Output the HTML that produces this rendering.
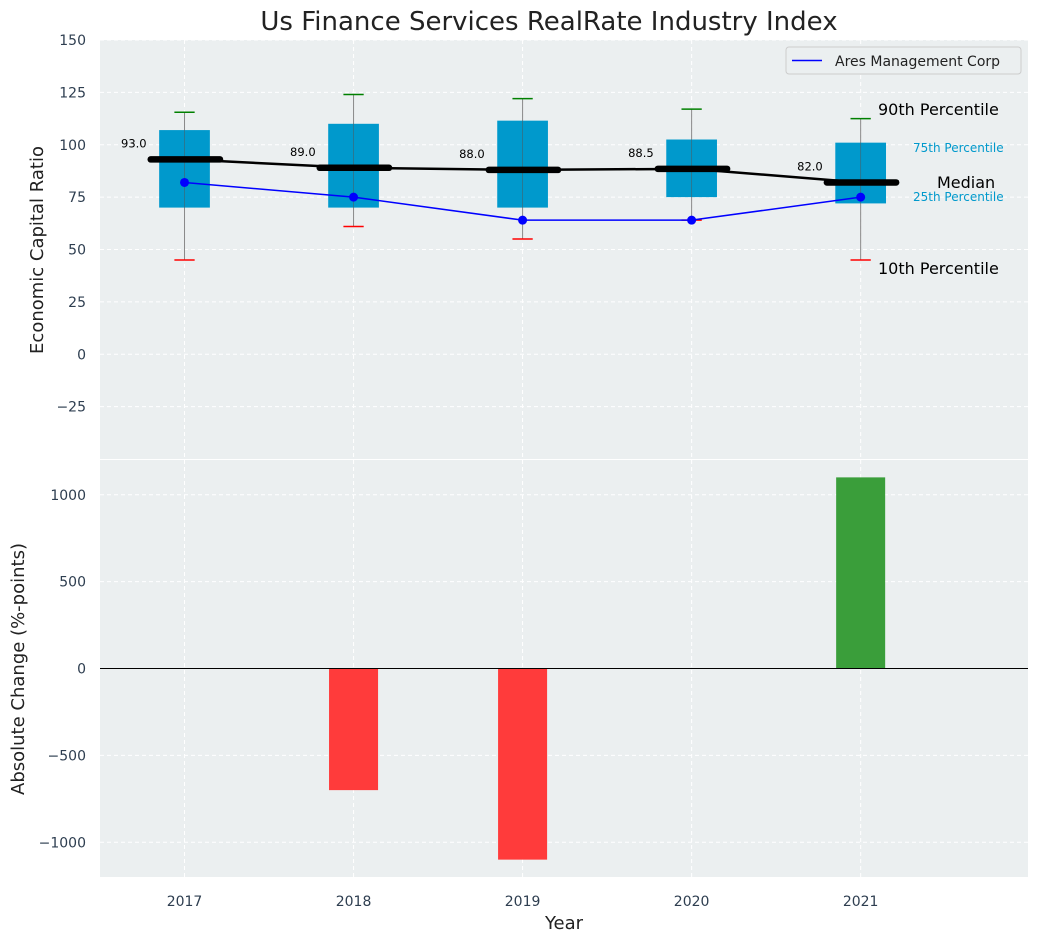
<!DOCTYPE html>
<html><head><meta charset="utf-8">
<style>
body{margin:0;background:#fff;}
svg text{font-family:"DejaVu Sans","Liberation Sans",sans-serif;}
</style></head>
<body>
<svg id="c" width="1039" height="942" xmlns="http://www.w3.org/2000/svg"></svg>
<script>
const years=[2017,2018,2019,2020,2021];
const q1=[70,70,70,75,72];
const q3=[107,110,111.5,102.5,101];
const p10=[45,61,55,64,45];
const p90=[115.5,124,122,117,112.5];
const medians=[93,89,88,88.5,82];
const company=[82,75,64,64,75];
const changes=[0,-700,-1100,0,1100];
const topTicks=[150,125,100,75,50,25,0,-25];
const botTicks=[1000,500,0,-500,-1000];

const svg=document.getElementById('c');
const NS='http://www.w3.org/2000/svg';
function el(t,a,p){const e=document.createElementNS(NS,t);for(const k in a)e.setAttribute(k,a[k]);(p||svg).appendChild(e);return e;}
const L=100,R=1028;
const x=v=>L+(v-2016.5)/(2021.99-2016.5)*(R-L);
const T0=40,T1=459;const yt=v=>T0+(150-v)/200*(T1-T0);
const B0=460,B1=877;const yb=v=>B0+(1200-v)/2400*(B1-B0);

let r=el('rect',{x:L,y:T0,width:R-L,height:T1-T0,fill:'#ebeff0'});

r=el('rect',{x:L,y:B0,width:R-L,height:B1-B0,fill:'#ebeff0'});


years.forEach(v=>{
 el('line',{x1:x(v),x2:x(v),y1:T0,y2:T1,stroke:'#fff','stroke-dasharray':'4,3'});
 el('line',{x1:x(v),x2:x(v),y1:B0,y2:B1,stroke:'#fff','stroke-dasharray':'4,3'});
 let t=el('text',{x:x(v),y:B1+29,'text-anchor':'middle','font-size':14,fill:'#2e3e50'});t.textContent=v;
 
});
topTicks.forEach(v=>{
 el('line',{x1:L,x2:R,y1:yt(v),y2:yt(v),stroke:'#fff','stroke-dasharray':'4,3'});
 let t=el('text',{x:L-14,y:yt(v)+5,'text-anchor':'end','font-size':14,fill:'#2e3e50'});t.textContent=v<0?'−'+(-v):v;
 
});
botTicks.forEach(v=>{
 el('line',{x1:L,x2:R,y1:yb(v),y2:yb(v),stroke:'#fff','stroke-dasharray':'4,3'});
 let t=el('text',{x:L-14,y:yb(v)+5,'text-anchor':'end','font-size':14,fill:'#2e3e50'});t.textContent=v<0?'−'+(-v):v;
 
});

const bw=0.3,cap=0.12;
years.forEach((v,i)=>{
 let w=el('line',{x1:x(v),x2:x(v),y1:yt(p90[i]),y2:yt(p10[i]),stroke:'#888','stroke-width':1});
 
 let b=el('rect',{x:x(v-bw/2),y:yt(q3[i]),width:x(v+bw/2)-x(v-bw/2),height:yt(q1[i])-yt(q3[i]),fill:'#0099cc'});
 
 el('line',{x1:x(v),x2:x(v),y1:yt(q3[i]),y2:yt(q1[i]),stroke:'#555','stroke-width':0.8,opacity:0.6});
 let c1=el('line',{x1:x(v-cap/2),x2:x(v+cap/2),y1:yt(p90[i]),y2:yt(p90[i]),stroke:'green','stroke-width':1.5});
 
 let c2=el('line',{x1:x(v-cap/2),x2:x(v+cap/2),y1:yt(p10[i]),y2:yt(p10[i]),stroke:'red','stroke-width':1.5});
 
});
let pl=el('polyline',{points:years.map((v,i)=>x(v)+','+yt(medians[i])).join(' '),fill:'none',stroke:'#000','stroke-width':2.5});

years.forEach((v,i)=>{
 let m=el('line',{x1:x(v-0.2),x2:x(v+0.21),y1:yt(medians[i]),y2:yt(medians[i]),stroke:'#000','stroke-width':6.5,'stroke-linecap':'round'});
 
 let t=el('text',{x:x(v-0.3),y:yt(medians[i])-12,'text-anchor':'middle','font-size':11.5,fill:'#000'});t.textContent=medians[i].toFixed(1);
 
});
let cl=el('polyline',{points:years.map((v,i)=>x(v)+','+yt(company[i])).join(' '),fill:'none',stroke:'blue','stroke-width':1.5});

years.forEach((v,i)=>{let p=el('circle',{cx:x(v),cy:yt(company[i]),r:4.5,fill:'blue'});
 });

function lab(txt,xx,yy,fs,col,anch,name){let t=el('text',{x:xx,y:yy,'font-size':fs,fill:col,'text-anchor':anch||'start'});t.textContent=txt;
 }
lab('90th Percentile',878,115,16,'#000','start','p90-label');
lab('75th Percentile',913,152,12,'#0099cc','start','p75-label');
lab('Median',937,188,16,'#000','start','median-text-label');
lab('25th Percentile',913,201,12,'#0099cc','start','p25-label');
lab('10th Percentile',878,274,16,'#000','start','p10-label');

let lg=el('g',{});
el('rect',{x:786,y:47,width:235,height:27,rx:3,fill:'#ebeff0',stroke:'#ccc'},lg);
el('line',{x1:792,x2:822,y1:60.5,y2:60.5,stroke:'blue','stroke-width':1.5},lg);
let lt=el('text',{x:835,y:66,'font-size':14,fill:'#222'},lg);lt.textContent='Ares Management Corp';

years.forEach((v,i)=>{if(!changes[i])return;
 const y0=yb(0),y1=yb(changes[i]);
 let b=el('rect',{x:x(v-0.145),width:x(v+0.145)-x(v-0.145),y:Math.min(y0,y1),height:Math.abs(y1-y0),fill:changes[i]>0?'#3a9e3a':'#ff3b3b'});
 
});
let z=el('line',{x1:L,x2:R,y1:yb(0),y2:yb(0),stroke:'#000','stroke-width':1});


lab('Us Finance Services RealRate Industry Index',549,30,26,'#222','middle','chart-title');
let yt1=el('text',{x:43,y:250,'font-size':18,fill:'#222','text-anchor':'middle',transform:'rotate(-90 43 250)'});yt1.textContent='Economic Capital Ratio';

let yt2=el('text',{x:24,y:669,'font-size':18,fill:'#222','text-anchor':'middle',transform:'rotate(-90 24 669)'});yt2.textContent='Absolute Change (%-points)';

lab('Year',564,929,18,'#222','middle','x-axis-title');
</script>
</body></html>
